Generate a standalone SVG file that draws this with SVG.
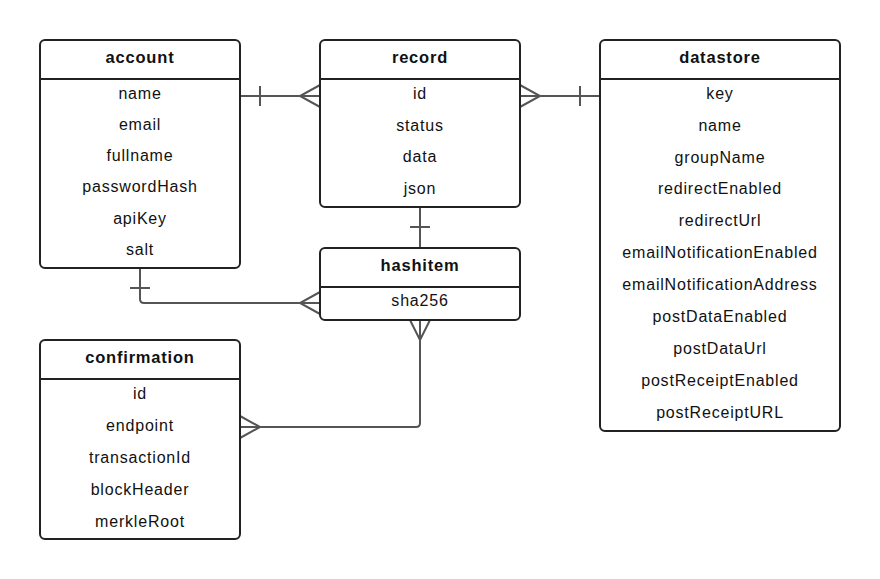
<svg xmlns="http://www.w3.org/2000/svg" width="880" height="579" viewBox="0 0 880 579">
<style>
.box{fill:#fff;stroke:#222;stroke-width:2}
.sep{stroke:#222;stroke-width:2}
.t{font-family:"Liberation Sans",Arial,sans-serif;font-size:16px;letter-spacing:0.8px;fill:#111;text-anchor:middle}
.h{font-weight:bold;font-size:16.5px}
.c{fill:none;stroke:#555;stroke-width:2}
</style>
<rect width="880" height="579" fill="#fff"/>
<g id="connectors">
<path class="c" d="M240,96 H320 M260,86 V106 M320,85 L300,96 L320,107"/>
<path class="c" d="M520,96 H600 M580,86 V106 M520,85 L540,96 L520,107"/>
<path class="c" d="M140,268 V299 Q140,303 144,303 H320 M130,288 H150 M320,292 L300,303 L320,314"/>
<path class="c" d="M420,207 V248 M410,227 H430"/>
<path class="c" d="M420,320 V423 Q420,427 416,427 H240 M410,320 L420,340 L430,320 M240,416 L260,427 L240,438"/>
</g>
<g id="account">
<rect class="box" x="40" y="40" width="200" height="228" rx="5"/>
<line class="sep" x1="40" y1="79" x2="240" y2="79"/>
<text class="t h" x="140" y="63">account</text>
<text class="t" x="140" y="99">name</text>
<text class="t" x="140" y="130">email</text>
<text class="t" x="140" y="161">fullname</text>
<text class="t" x="140" y="192">passwordHash</text>
<text class="t" x="140" y="224">apiKey</text>
<text class="t" x="140" y="255">salt</text>
</g>
<g id="record">
<rect class="box" x="320" y="40" width="200" height="167" rx="5"/>
<line class="sep" x1="320" y1="79" x2="520" y2="79"/>
<text class="t h" x="420" y="63">record</text>
<text class="t" x="420" y="99">id</text>
<text class="t" x="420" y="131">status</text>
<text class="t" x="420" y="162">data</text>
<text class="t" x="420" y="194">json</text>
</g>
<g id="datastore">
<rect class="box" x="600" y="40" width="240" height="391" rx="5"/>
<line class="sep" x1="600" y1="79" x2="840" y2="79"/>
<text class="t h" x="720" y="63">datastore</text>
<text class="t" x="720" y="99">key</text>
<text class="t" x="720" y="131">name</text>
<text class="t" x="720" y="163">groupName</text>
<text class="t" x="720" y="194">redirectEnabled</text>
<text class="t" x="720" y="226">redirectUrl</text>
<text class="t" x="720" y="258">emailNotificationEnabled</text>
<text class="t" x="720" y="290">emailNotificationAddress</text>
<text class="t" x="720" y="322">postDataEnabled</text>
<text class="t" x="720" y="354">postDataUrl</text>
<text class="t" x="720" y="386">postReceiptEnabled</text>
<text class="t" x="720" y="418">postReceiptURL</text>
</g>
<g id="hashitem">
<rect class="box" x="320" y="248" width="200" height="72" rx="5"/>
<line class="sep" x1="320" y1="287" x2="520" y2="287"/>
<text class="t h" x="420" y="271">hashitem</text>
<text class="t" x="420" y="306">sha256</text>
</g>
<g id="confirmation">
<rect class="box" x="40" y="340" width="200" height="199" rx="5"/>
<line class="sep" x1="40" y1="379" x2="240" y2="379"/>
<text class="t h" x="140" y="363">confirmation</text>
<text class="t" x="140" y="399">id</text>
<text class="t" x="140" y="431">endpoint</text>
<text class="t" x="140" y="463">transactionId</text>
<text class="t" x="140" y="495">blockHeader</text>
<text class="t" x="140" y="527">merkleRoot</text>
</g>
</svg>
